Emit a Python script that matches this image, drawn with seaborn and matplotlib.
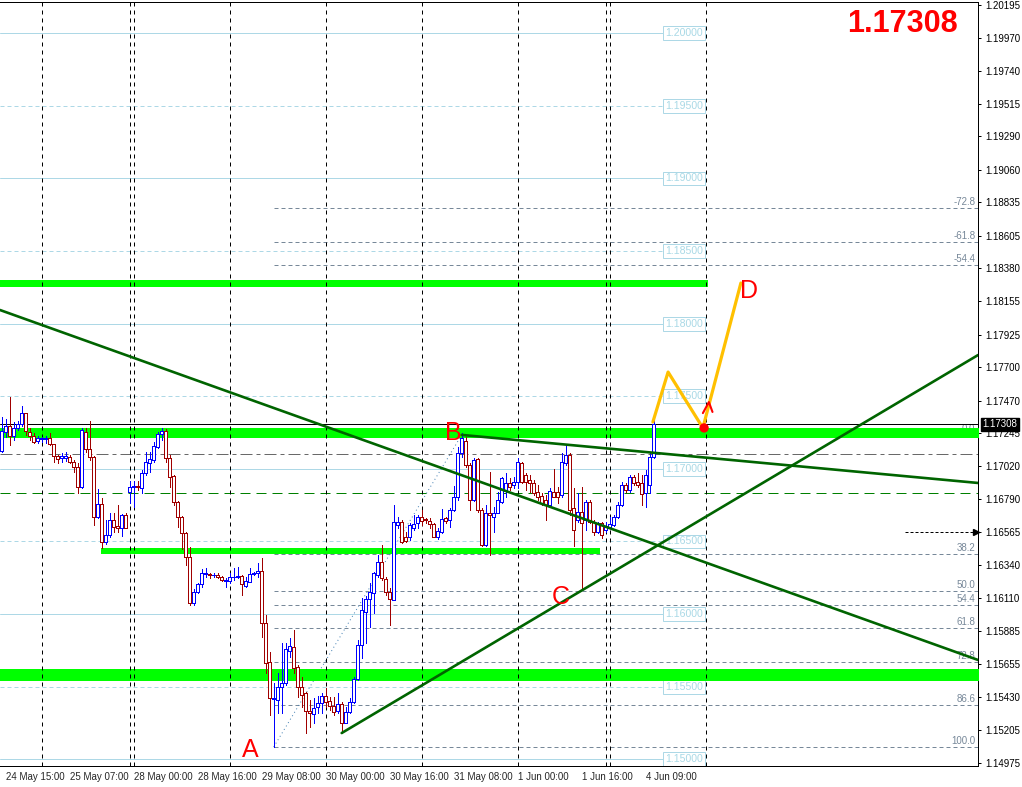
import numpy as np
import pandas as pd
import matplotlib
matplotlib.use("Agg")
import matplotlib.pyplot as plt
from matplotlib.patches import Rectangle
import seaborn as sns

sns.set_style("white")
plt.rcParams['font.family'] = ['Liberation Sans', 'DejaVu Sans']

# ---------------- data (H1 candles, bar index 0..163) ----------------
opens = [1.17123,1.17254,1.17296,1.17227,1.17282,1.17309,1.17384,1.17254,1.17227,1.17192,
         1.17206,1.17206,1.17213,1.17171,1.17089,1.17075,1.17075,1.17082,1.17047,1.17013,
         1.16875,1.17254,1.17137,1.17082,1.16669,1.16758,1.16496,1.16545,1.16648,1.16607,
         1.16593,1.16683,1.16841,1.16875,1.16882,1.16868,1.16971,1.17040,1.17061,1.17151,
         1.17240,1.17261,1.17075,1.16951,1.16772,1.16669,1.16558,1.16393,1.16076,1.16152,
         1.16207,1.16276,1.16276,1.16270,1.16270,1.16256,1.16228,1.16228,1.16256,1.16256,
         1.16263,1.16193,1.16221,1.16276,1.16283,1.16297,1.15938,1.15670,1.15415,1.15408,
         1.15498,1.15525,1.15746,1.15774,1.15636,1.15498,1.15456,1.15333,1.15312,1.15360,
         1.15388,1.15436,1.15401,1.15367,1.15333,1.15381,1.15250,1.15326,1.15394,1.15553,
         1.15787,1.16014,1.16104,1.16145,1.16270,1.16359,1.16242,1.16152,1.16097,1.16614,
         1.16634,1.16531,1.16531,1.16593,1.16627,1.16669,1.16655,1.16641,1.16620,1.16531,
         1.16565,1.16662,1.16648,1.16717,1.16807,1.17109,1.17192,1.17027,1.16786,1.17068,
         1.16717,1.16476,1.16696,1.16669,1.16696,1.16772,1.16848,1.16903,1.16889,1.16909,
         1.17040,1.16958,1.16923,1.16903,1.16841,1.16814,1.16786,1.16752,1.16841,1.16841,
         1.16820,1.17040,1.17096,1.16731,1.16648,1.16703,1.16648,1.16772,1.16634,1.16565,
         1.16627,1.16579,1.16600,1.16614,1.16669,1.16752,1.16889,1.16855,1.16944,1.16909,
         1.16903,1.16834,1.16889,1.17082]
highs = [1.17357,1.17343,1.17495,1.17323,1.17330,1.17433,1.17384,1.17282,1.17247,1.17227,
         1.17220,1.17227,1.17247,1.17171,1.17096,1.17109,1.17116,1.17096,1.17061,1.17040,
         1.17282,1.17282,1.17330,1.17089,1.16862,1.16800,1.16648,1.16696,1.16696,1.16752,
         1.16690,1.16696,1.16916,1.16916,1.16916,1.16992,1.17116,1.17116,1.17185,1.17254,
         1.17282,1.17275,1.17096,1.16958,1.16779,1.16676,1.16565,1.16462,1.16173,1.16214,
         1.16311,1.16318,1.16283,1.16283,1.16283,1.16263,1.16249,1.16283,1.16318,1.16325,
         1.16270,1.16256,1.16318,1.16290,1.16352,1.16386,1.15994,1.15739,1.15525,1.15594,
         1.15801,1.15801,1.15836,1.15891,1.15650,1.15567,1.15463,1.15408,1.15422,1.15436,
         1.15456,1.15491,1.15429,1.15429,1.15456,1.15394,1.15360,1.15422,1.15567,1.15822,
         1.16111,1.16125,1.16214,1.16290,1.16407,1.16476,1.16256,1.16180,1.16752,1.16669,
         1.16648,1.16565,1.16627,1.16683,1.16683,1.16717,1.16662,1.16662,1.16627,1.16593,
         1.16724,1.16669,1.16731,1.16882,1.17151,1.17247,1.17220,1.17040,1.17075,1.17075,
         1.16731,1.16752,1.16978,1.16738,1.16841,1.16944,1.16971,1.16937,1.16944,1.17075,
         1.17047,1.16971,1.16958,1.16923,1.16889,1.16834,1.16820,1.16868,1.16999,1.16875,
         1.17109,1.17171,1.17109,1.16868,1.16834,1.16875,1.16786,1.16786,1.16648,1.16634,
         1.16634,1.16634,1.16669,1.16683,1.16772,1.16909,1.16903,1.16958,1.16958,1.16971,
         1.16958,1.16992,1.17116,1.17337]
lows = [1.17116,1.17220,1.17165,1.17199,1.17268,1.17296,1.17234,1.17199,1.17178,1.17178,
        1.17185,1.17178,1.17165,1.17047,1.17040,1.17047,1.17054,1.17040,1.16978,1.16834,
        1.16868,1.17116,1.17061,1.16614,1.16662,1.16455,1.16482,1.16531,1.16565,1.16565,
        1.16538,1.16590,1.16765,1.16738,1.16855,1.16834,1.16958,1.16978,1.17047,1.17144,
        1.17199,1.17047,1.16875,1.16752,1.16600,1.16448,1.16339,1.16063,1.16063,1.16145,
        1.16187,1.16256,1.16249,1.16256,1.16249,1.16228,1.16187,1.16214,1.16235,1.16249,
        1.16131,1.16187,1.16221,1.16270,1.16256,1.15843,1.15594,1.15306,1.15085,1.15319,
        1.15319,1.15512,1.15705,1.15594,1.15429,1.15360,1.15181,1.15223,1.15250,1.15319,
        1.15319,1.15360,1.15340,1.15306,1.15319,1.15181,1.15250,1.15319,1.15388,1.15546,
        1.15698,1.15801,1.15911,1.16007,1.16256,1.16235,1.16131,1.15925,1.16097,1.16593,
        1.16489,1.16496,1.16510,1.16579,1.16593,1.16614,1.16627,1.16593,1.16531,1.16517,
        1.16558,1.16627,1.16600,1.16710,1.16786,1.17082,1.17013,1.16717,1.16779,1.16703,
        1.16469,1.16469,1.16407,1.16565,1.16696,1.16765,1.16807,1.16855,1.16868,1.16868,
        1.16903,1.16855,1.16841,1.16820,1.16786,1.16752,1.16648,1.16738,1.16807,1.16765,
        1.16807,1.17027,1.16683,1.16469,1.16634,1.16166,1.16579,1.16627,1.16545,1.16558,
        1.16524,1.16565,1.16600,1.16607,1.16662,1.16745,1.16841,1.16841,1.16889,1.16875,
        1.16752,1.16738,1.16834,1.17075]
closes = [1.17261,1.17296,1.17227,1.17282,1.17309,1.17384,1.17261,1.17227,1.17185,1.17213,
          1.17210,1.17213,1.17171,1.17089,1.17068,1.17089,1.17089,1.17047,1.17013,1.16875,
          1.17268,1.17137,1.17082,1.16669,1.16758,1.16496,1.16545,1.16648,1.16600,1.16593,
          1.16683,1.16593,1.16875,1.16882,1.16875,1.16971,1.17047,1.17068,1.17158,1.17240,
          1.17261,1.17075,1.16944,1.16772,1.16669,1.16558,1.16393,1.16076,1.16152,1.16207,
          1.16283,1.16283,1.16270,1.16272,1.16256,1.16235,1.16235,1.16256,1.16258,1.16260,
          1.16207,1.16228,1.16276,1.16283,1.16297,1.15938,1.15663,1.15422,1.15422,1.15498,
          1.15525,1.15760,1.15781,1.15629,1.15498,1.15443,1.15333,1.15319,1.15353,1.15388,
          1.15436,1.15394,1.15367,1.15326,1.15381,1.15250,1.15326,1.15394,1.15553,1.15787,
          1.16028,1.16104,1.16152,1.16283,1.16359,1.16249,1.16152,1.16104,1.16634,1.16634,
          1.16496,1.16503,1.16614,1.16620,1.16669,1.16641,1.16648,1.16620,1.16531,1.16572,
          1.16655,1.16641,1.16717,1.16807,1.17109,1.17213,1.17027,1.16786,1.17061,1.16717,
          1.16476,1.16696,1.16683,1.16696,1.16786,1.16937,1.16903,1.16875,1.16909,1.17047,
          1.16909,1.16909,1.16903,1.16834,1.16807,1.16765,1.16752,1.16848,1.16807,1.16807,
          1.17047,1.17096,1.16717,1.16579,1.16703,1.16627,1.16772,1.16634,1.16565,1.16627,
          1.16545,1.16607,1.16620,1.16669,1.16752,1.16889,1.16855,1.16944,1.16903,1.16889,
          1.16827,1.16958,1.17082,1.17308]

# time axis labels (bar index, text)
time_tick_bars = [1, 17, 33, 49, 65, 81, 97, 113, 129, 145, 161]
time_tick_labels = ["24 May 15:00", "25 May 07:00", "28 May 00:00", "28 May 16:00",
                    "29 May 08:00", "30 May 00:00", "30 May 16:00", "31 May 08:00",
                    "1 Jun 00:00", "1 Jun 16:00", "4 Jun 09:00"]
day_separator_bars = [10, 32, 33, 57, 81, 105, 129, 151, 152, 176]

# price scale labels
price_ticks = [1.20195, 1.19970, 1.19740, 1.19515, 1.19290, 1.19060, 1.18835, 1.18605,
               1.18380, 1.18155, 1.17925, 1.17700, 1.17470, 1.17245, 1.17020, 1.16790,
               1.16565, 1.16340, 1.16110, 1.15885, 1.15655, 1.15430, 1.15205, 1.14975]
current_price = 1.17308

# round-number levels (solid at whole, dashed at half)
round_levels = [1.20000, 1.19500, 1.19000, 1.18500, 1.18000, 1.17500,
                1.17000, 1.16500, 1.16000, 1.15500, 1.15000]

# support / resistance zones: (low, high, start bar, end bar)
zone_low = [1.18253, 1.17210, 1.16414, 1.15537]
zone_high = [1.18301, 1.17279, 1.16455, 1.15624]
zone_start = [-1.0, -1.0, 24.8, -1.0]
zone_end = [176.6, 250.0, 149.6, 250.0]

# other horizontal levels
dashdot_level = 1.17102
green_dash_level = 1.16834
arrow_level = 1.16565
arrow_start_bar = 225.8

# fibonacci retracement
fib_levels = [-72.8, -61.8, -54.4, 0.0, 38.2, 50.0, 54.4, 61.8, 72.8, 78.6, 86.6, 100.0]
fib_price_0 = 1.17234
fib_price_100 = 1.15085
fib_start_bar = 68
fib_anchor_bars = [68, 115]
fib_anchor_prices = [1.15085, 1.17234]

# trend lines: (bar1, price1, bar2, price2)
trend_bar1 = [-0.425, 115.0, 85.0]
trend_price1 = [1.18094, 1.17234, 1.15181]
trend_bar2 = [244.1, 244.1, 244.1]
trend_price2 = [1.15684, 1.16903, 1.17784]

# projected zigzag
zigzag_bars = [162.8, 166.6, 175.3, 184.8]
zigzag_prices = [1.17323, 1.17667, 1.17282, 1.18280]
dot_bar, dot_price = 175.6, 1.17282
caret_bars = [175.3, 176.8, 177.7]
caret_prices = [1.17384, 1.17460, 1.17392]

# wave labels
wave_labels = ["A", "B", "C", "D"]
wave_bars = [62.1, 112.8, 139.8, 186.8]
wave_prices = [1.15064, 1.17247, 1.16118, 1.18225]

# ---------------- figure ----------------
W, H = 1022, 787
fig = plt.figure(figsize=(W / 100, H / 100), dpi=100)
ax = fig.add_axes([0, 21 / H, 978 / W, 764 / H])
PX = 0.72  # one pixel in points

XMIN, XMAX = -0.425, 244.08
YMIN, YMAX = 1.14954, 1.20215
ax.set_xlim(XMIN, XMAX)
ax.set_ylim(YMIN, YMAX)

# round levels
for lv in round_levels:
    whole = abs(lv * 100 - round(lv * 100)) < 1e-6
    ax.plot([XMIN, 165.3], [lv, lv], color='#add8e6', lw=PX,
            ls='-' if whole else (0, (4, 3)), zorder=1)
    ax.text(170.6, lv, f"{lv:.5f}", color='#a9d9e6', fontsize=7.6, ha='center', va='center',
            bbox=dict(boxstyle='square,pad=0.18', fc='white', ec='#add8e6', lw=PX), zorder=2)

# fibonacci lines
fib_prices = [fib_price_0 - (fib_price_0 - fib_price_100) * l / 100 for l in fib_levels]
for l, p in zip(fib_levels, fib_prices):
    ax.plot([fib_start_bar, XMAX], [p, p], color='#778899', lw=PX, ls=(0, (4, 3)), zorder=2)
    ax.text(243.4, p + 0.00008, f"{l:.1f}", color='#778899', fontsize=7, ha='right', va='bottom', zorder=2)
ax.plot(fib_anchor_bars, fib_anchor_prices, color='#4682b4', lw=PX, ls=(0, (1, 3)), zorder=3)

# zones
for lo, hi, s, e in zip(zone_low, zone_high, zone_start, zone_end):
    ax.fill_between([s, e], [lo, lo], [hi, hi], color='#00ff00', lw=0, zorder=3)

# horizontal special lines
ax.plot([XMIN, XMAX], [dashdot_level] * 2, color='#696969', lw=PX, ls=(0, (12, 4, 4, 4)), zorder=3)
ax.plot([XMIN, XMAX], [green_dash_level] * 2, color='#008000', lw=PX, ls=(0, (10, 6)), zorder=3)
ax.plot([XMIN, XMAX], [current_price] * 2, color='black', lw=PX, zorder=4)
ax.plot([arrow_start_bar, XMAX - 0.8], [arrow_level] * 2, color='black', lw=PX, ls=(0, (3, 2)), zorder=4)
ax.plot([XMAX - 0.6], [arrow_level], marker='>', color='black', ms=4, zorder=4, clip_on=False)

# day separators
for b in day_separator_bars:
    ax.axvline(b, color='black', lw=PX, ls=(0, (4, 4)), zorder=4)

# candles
bars = np.arange(len(closes))
cols = ['#0000ff' if c > o else '#a00000' for o, c in zip(opens, closes)]
ax.vlines(bars, lows, highs, colors=cols, lw=PX, zorder=5, antialiased=False)
for k, o, c, col in zip(bars, opens, closes, cols):
    lo, hi = min(o, c), max(o, c)
    ax.add_patch(Rectangle((k - 0.3, lo), 0.6, max(hi - lo, 1e-6), fc='white', ec=col,
                           lw=PX, zorder=6, antialiased=False))

# trend lines (seaborn)
for b1, p1, b2, p2 in zip(trend_bar1, trend_price1, trend_bar2, trend_price2):
    sns.lineplot(x=[b1, b2], y=[p1, p2], ax=ax, color='#006400', lw=1.9, zorder=7)

# projected zigzag
zz = pd.DataFrame({'bar': zigzag_bars, 'price': zigzag_prices})
sns.lineplot(data=zz, x='bar', y='price', ax=ax, color='#ffc000', lw=2.3, sort=False, zorder=8)
sns.scatterplot(x=[dot_bar], y=[dot_price], ax=ax, color='#ff0000', s=45, edgecolor='none', zorder=9)
ax.plot(caret_bars, caret_prices, color='#ff0000', lw=1.5, zorder=9)

# wave labels
for t, b, p in zip(wave_labels, wave_bars, wave_prices):
    ax.text(b, p, t, color='#ff0000', fontsize=18, ha='center', va='center', zorder=10)

fig.text(902 / W, 1 - 24 / H, f"{current_price:.5f}", color='#ff0000', fontsize=22,
         fontweight='bold', ha='center', va='center')

# axes styling
ax.set_xlabel('')
ax.set_ylabel('')
for s in ['top', 'right', 'bottom']:
    ax.spines[s].set_color('black')
    ax.spines[s].set_linewidth(PX)
ax.spines['left'].set_visible(False)
ax.yaxis.tick_right()
ax.set_yticks(price_ticks)
ax.set_yticklabels([f"{p:.5f}" for p in price_ticks])
ax.tick_params(axis='y', direction='out', length=2.5, width=PX, pad=3, labelsize=7, colors='black')
ax.set_xticks(time_tick_bars)
ax.set_xticklabels(time_tick_labels, ha='left')
ax.set_xticks(day_separator_bars, minor=True)
ax.tick_params(axis='x', which='both', direction='out', length=2.5, width=PX, pad=2, labelsize=7)
for lbl in ax.get_xticklabels():
    lbl.set_horizontalalignment('left')
ax.grid(False)

ax.annotate(f"{current_price:.5f}", xy=(1.0, current_price), xycoords=('axes fraction', 'data'),
            xytext=(3, 0), textcoords='offset points', ha='left', va='center', color='white',
            fontsize=7, bbox=dict(boxstyle='square,pad=0.15', fc='black', ec='black'),
            annotation_clip=False, zorder=20)

fig.savefig('out.png', dpi=100)
